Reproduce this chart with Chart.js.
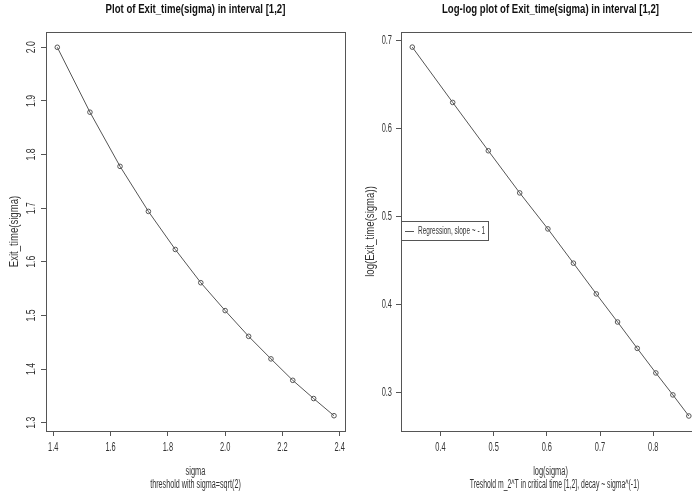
<!DOCTYPE html>
<html>
<head>
<meta charset="utf-8">
<script src="https://cdn.jsdelivr.net/npm/chart.js@4.4.1/dist/chart.umd.min.js"></script>
<style>
  html, body { margin: 0; padding: 0; background: #fff; overflow: hidden; }
  #wrap { position: relative; width: 692px; height: 495px; overflow: hidden; }
  #leftChart { position: absolute; left: 0; top: 0; }
  #rightChart { position: absolute; left: 350px; top: 0; }
</style>
</head>
<body>
<div id="wrap">
  <canvas id="leftChart" width="350" height="495"></canvas>
  <canvas id="rightChart" width="355" height="495"></canvas>
</div>
<script>
// values
const sigmaVals = [1.414, 1.528, 1.633, 1.732, 1.826, 1.915, 2.000, 2.082, 2.160, 2.236, 2.309, 2.380];
const exitTime  = [2.000, 1.879, 1.778, 1.694, 1.623, 1.561, 1.509, 1.461, 1.419, 1.379, 1.345, 1.313];
const logSigma  = [0.347, 0.423, 0.490, 0.549, 0.602, 0.650, 0.693, 0.733, 0.770, 0.805, 0.837, 0.867];
const logExit   = [0.693, 0.630, 0.575, 0.527, 0.486, 0.447, 0.412, 0.380, 0.350, 0.322, 0.297, 0.273];

const leftXTicks  = [1.4, 1.6, 1.8, 2.0, 2.2, 2.4];
const leftYTicks  = [1.3, 1.4, 1.5, 1.6, 1.7, 1.8, 1.9, 2.0];
const rightXTicks = [0.4, 0.5, 0.6, 0.7, 0.8];
const rightYTicks = [0.3, 0.4, 0.5, 0.6, 0.7];

const FONT = '"Liberation Sans", Arial, sans-serif';
const SQ = 0.62;          // R's png output is squeezed horizontally
const INK = '#555';
const TXT = '#333';

function sqText(ctx, txt, x, y, size, opts = {}) {
    ctx.save();
    ctx.translate(x, y);
    if (opts.rot) ctx.rotate(opts.rot);
    ctx.scale(opts.sq || SQ, 1);
    ctx.font = (opts.bold ? 'bold ' : '') + size + 'px ' + FONT;
    ctx.fillStyle = opts.color || TXT;
    ctx.textAlign = opts.align || 'center';
    ctx.textBaseline = 'middle';
    ctx.fillText(txt, 0, 0);
    ctx.restore();
}

// R style decorations: box, titles, tick labels, axis titles
function rDecor(cfg) {
    return {
        id: 'rDecor',
        afterDraw(chart) {
            const ctx = chart.ctx;
            const a = chart.chartArea;
            const xs = chart.scales.x, ys = chart.scales.y;
            const cx = (a.left + a.right) / 2;

            ctx.save();
            ctx.strokeStyle = INK;
            ctx.lineWidth = 1;
            ctx.strokeRect(Math.round(a.left) + 0.5, Math.round(a.top) + 0.5,
                Math.round(a.right - a.left), Math.round(a.bottom - a.top));
            ctx.restore();

            sqText(ctx, cfg.title, cx, 10, 12, { bold: true, color: '#111', sq: 0.8 });

            cfg.xTicks.forEach(v => {
                sqText(ctx, v.toFixed(1), xs.getPixelForValue(v), 448, 12);
            });
            cfg.yTicks.forEach(v => {
                const py = ys.getPixelForValue(v);
                if (cfg.rotY) {
                    sqText(ctx, v.toFixed(1), a.left - 14, py, 12, { rot: -Math.PI / 2, sq: 0.72 });
                } else {
                    sqText(ctx, v.toFixed(1), a.left - 9, py, 12, { align: 'right' });
                }
            });

            sqText(ctx, cfg.xTitle[0], cx, 472, 12);
            sqText(ctx, cfg.xTitle[1], cx + cfg.sub.dx, 485, 12, { sq: cfg.sub.sq });
            sqText(ctx, cfg.yTitle, cfg.yTitleX, (a.top + a.bottom) / 2, 12, { rot: -Math.PI / 2, sq: 0.8 });

            if (cfg.legend) {
                ctx.save();
                ctx.strokeStyle = INK;
                ctx.lineWidth = 1;
                ctx.strokeRect(Math.round(a.left) + 0.5, 221.5, 87, 19);
                ctx.beginPath();
                ctx.moveTo(a.left + 4, 231.5);
                ctx.lineTo(a.left + 13, 231.5);
                ctx.stroke();
                ctx.restore();
                sqText(ctx, cfg.legend, a.left + 17, 231.5, 10, { align: 'left', sq: 0.65 });
            }
        }
    };
}

function makeChart(id, xData, yData, xr, yr, yWidth, cfg) {
    const pts = xData.map((x, i) => ({ x: x, y: yData[i] }));
    return new Chart(document.getElementById(id), {
        type: 'line',
        data: {
            datasets: [{
                data: pts,
                borderColor: INK,
                borderWidth: 1,
                pointRadius: 2.3,
                pointBorderWidth: 1,
                pointBorderColor: INK,
                pointBackgroundColor: 'rgba(0,0,0,0)',
                tension: 0,
                fill: false
            }]
        },
        options: {
            responsive: false,
            animation: false,
            layout: { padding: { top: 32, right: 4, left: 0, bottom: 0 } },
            plugins: { legend: { display: false }, tooltip: { enabled: false }, title: { display: false } },
            scales: {
                x: {
                    type: 'linear',
                    min: xr[0], max: xr[1],
                    afterBuildTicks: s => { s.ticks = cfg.xTicks.map(v => ({ value: v })); },
                    afterFit: s => { s.height = 64; },
                    ticks: { display: false },
                    grid: { drawOnChartArea: false, drawTicks: true, tickLength: 5, color: INK },
                    border: { display: true, color: INK }
                },
                y: {
                    type: 'linear',
                    min: yr[0], max: yr[1],
                    afterBuildTicks: s => { s.ticks = cfg.yTicks.map(v => ({ value: v })); },
                    afterFit: s => { s.width = yWidth; },
                    ticks: { display: false },
                    grid: { drawOnChartArea: false, drawTicks: true, tickLength: 5, color: INK },
                    border: { display: true, color: INK }
                }
            }
        },
        plugins: [rDecor(cfg)]
    });
}

makeChart('leftChart', sigmaVals, exitTime, [1.3746, 2.4184], [1.2845, 2.0285], 46, {
    title: 'Plot of Exit_time(sigma) in interval [1,2]',
    xTicks: leftXTicks, yTicks: leftYTicks, rotY: true,
    xTitle: ['sigma', 'threshold with sigma=sqrt(2)'], sub: { dx: 0, sq: 0.6 },
    yTitle: 'Exit_time(sigma)', yTitleX: 15
});

makeChart('rightChart', logSigma, logExit, [0.3258, 0.888], [0.2559, 0.7102], 51, {
    title: 'Log-log plot of Exit_time(sigma) in interval [1,2]',
    xTicks: rightXTicks, yTicks: rightYTicks, rotY: false,
    xTitle: ['log(sigma)', 'Treshold m_2^T in critical time [1,2], decay ~ sigma^(-1)'], sub: { dx: 4, sq: 0.57 },
    yTitle: 'log(Exit_time(sigma))', yTitleX: 21,
    legend: 'Regression, slope ~ - 1'
});
</script>
</body>
</html>
